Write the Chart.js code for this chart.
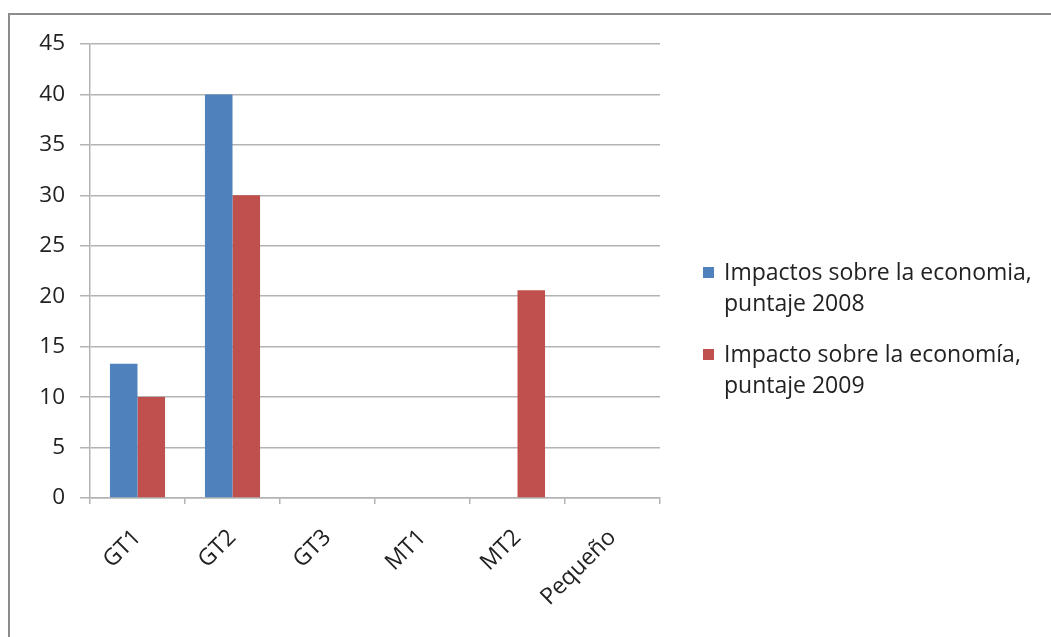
<!DOCTYPE html>
<html>
<head>
<meta charset="utf-8">
<script src="https://cdn.jsdelivr.net/npm/chart.js@4/dist/chart.umd.min.js"></script>
<style>
	html, body { margin: 0; padding: 0; background: #fff; }
	#wrap { position: relative; width: 1051px; height: 637px; overflow: hidden; }
	#frame {
		position: absolute; left: 8px; top: 13px; width: 1100px; height: 700px;
		border-top: 2px solid #8c8c8c; border-left: 2px solid #8c8c8c;
	}
	canvas { position: absolute; left: 0; top: 0; }
	.legend { position: absolute; left: 703px; font-family: "Open Sans", sans-serif; font-size: 23px; line-height: 31px; color: #222; }
	.legend .sw { position: absolute; left: 0; width: 11px; height: 11px; }
	.legend .txt { position: absolute; left: 21px; white-space: nowrap; }
</style>
</head>
<body>
<div id="wrap">
	<div id="frame"></div>
	<canvas id="chart" width="1051" height="637"></canvas>
	<div class="legend" id="legend"></div>
</div>
<script>
const categories = [ 'GT1', 'GT2', 'GT3', 'MT1', 'MT2', 'Pequeño' ];
const impactos2008 = [ 13.3, 40, 0, 0, 0, 0 ];
const impacto2009 = [ 10, 30, 0, 0, 20.6, 0 ];
const seriesNames = [
	[ 'Impactos sobre la economia,', 'puntaje 2008' ],
	[ 'Impacto sobre la economía,', 'puntaje 2009' ],
];
const colors = [ '#4F81BD', '#C0504D' ];

const gridColor = '#b3b3b3';
const fontFamily = '"Open Sans", sans-serif';

new Chart( document.getElementById( 'chart' ), {
	type: 'bar',
	data: {
		labels: categories,
		datasets: [
			{ data: impactos2008, backgroundColor: colors[ 0 ], borderWidth: 0 },
			{ data: impacto2009, backgroundColor: colors[ 1 ], borderWidth: 0 },
		],
	},
	options: {
		responsive: false,
		animation: false,
		categoryPercentage: 0.58,
		barPercentage: 1,
		layout: { padding: { top: 44, right: 391, left: 0, bottom: 0 } },
		plugins: { legend: { display: false }, tooltip: { enabled: false } },
		scales: {
			x: {
				afterFit: ( s ) => { s.height = 139; },
				grid: {
					drawOnChartArea: false,
					drawTicks: true,
					tickLength: 6,
					color: gridColor,
					lineWidth: 1.5,
				},
				border: { display: true, color: gridColor, width: 1.5 },
				ticks: {
					minRotation: 45,
					maxRotation: 45,
					padding: 20,
					color: '#222',
					font: { family: fontFamily, size: 23 },
				},
			},
			y: {
				min: 0,
				max: 45,
				afterFit: ( s ) => { s.width = 90; },
				grid: { color: gridColor, lineWidth: 1.5, tickLength: 10 },
				border: { display: true, color: gridColor, width: 1.5 },
				ticks: {
					stepSize: 5,
					padding: 15,
					color: '#222',
					font: { family: fontFamily, size: 22.5 },
				},
			},
		},
	},
} );

// legend with wrapped series names
const legend = document.getElementById( 'legend' );
const tops = [ 256, 338 ];
seriesNames.forEach( ( lines, i ) => {
	const sw = document.createElement( 'div' );
	sw.className = 'sw';
	sw.style.background = colors[ i ];
	sw.style.top = ( tops[ i ] + 11 ) + 'px';
	legend.appendChild( sw );
	const txt = document.createElement( 'div' );
	txt.className = 'txt';
	txt.style.top = tops[ i ] + 'px';
	txt.innerHTML = lines.join( '<br>' );
	legend.appendChild( txt );
} );
</script>
</body>
</html>
